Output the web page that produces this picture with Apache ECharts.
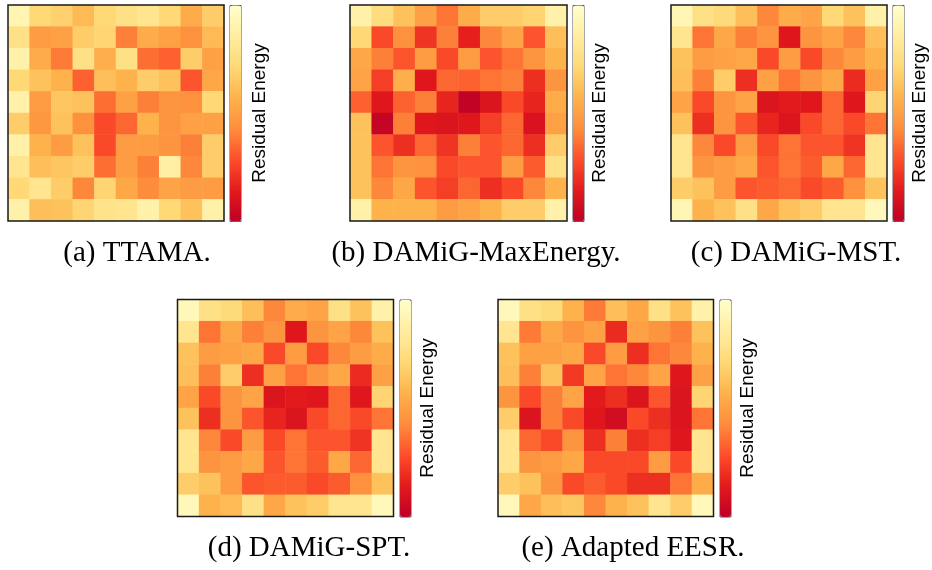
<!DOCTYPE html>
<html>
<head>
<meta charset="utf-8">
<script src="https://cdn.jsdelivr.net/npm/echarts@6/dist/echarts.min.js"></script>
<style>html,body{margin:0;padding:0;background:#fff}#c{width:932px;height:570px}</style>
</head>
<body>
<div id="c"></div>
<script>
// Residual energy per 10x10 grid cell (rows top to bottom), arbitrary units (0 = depleted, 70 = full)
var cols = ['0','1','2','3','4','5','6','7','8','9'];
var rows = ['0','1','2','3','4','5','6','7','8','9'];
var captions = ['(a) TTAMA.', '(b) DAMiG-MaxEnergy.', '(c) DAMiG-MST.', '(d) DAMiG-SPT.', '(e) Adapted EESR.'];
var colorbarLabel = 'Residual Energy';

var ttama = [
  [64,50,48,42,50,54,56,50,38,47],
  [54,34,35,47,49,28,38,35,31,42],
  [62,38,27,54,39,54,25,23,47,35],
  [50,44,40,23,43,40,47,44,21,37],
  [62,34,45,44,25,35,28,32,31,50],
  [47,33,44,31,19,24,40,32,35,35],
  [62,40,34,44,19,34,34,32,28,47],
  [56,43,45,47,25,34,28,61,29,47],
  [50,56,47,29,49,37,30,36,34,34],
  [62,43,44,49,55,56,62,50,44,62]
];
var maxEnergy = [
  [62,52,44,35,26,38,47,47,49,62],
  [50,19,31,15,28,11,29,36,21,43],
  [37,28,21,34,19,34,21,26,32,40],
  [36,17,39,9,24,23,26,28,14,32],
  [23,9,23,28,12,1,8,19,12,38],
  [44,2,28,9,8,9,17,24,7,35],
  [44,21,14,24,15,28,21,24,14,47],
  [44,26,32,31,19,21,21,34,22,54],
  [44,29,37,21,17,24,14,19,29,40],
  [62,40,40,40,34,36,40,47,47,62]
];
var mst = [
  [65,54,51,43,29,38,36,50,44,62],
  [56,26,37,28,32,9,32,36,29,43],
  [44,34,35,37,19,34,19,29,34,40],
  [43,28,47,14,35,26,32,37,13,35],
  [36,19,32,36,8,10,9,24,9,49],
  [44,14,32,21,12,8,19,24,19,26],
  [56,29,19,34,19,26,21,21,15,56],
  [56,32,34,37,21,26,22,37,24,56],
  [47,44,34,21,22,24,19,22,31,44],
  [65,40,44,54,37,44,47,56,56,66]
];
var spt = [
  [66,54,51,43,29,38,36,54,44,62],
  [56,26,37,28,32,9,32,36,29,44],
  [44,34,35,37,19,34,19,29,34,38],
  [43,28,47,14,35,26,32,37,13,35],
  [36,19,32,36,8,10,9,24,9,49],
  [44,14,32,21,12,8,19,24,19,26],
  [56,29,19,34,19,26,21,21,15,56],
  [56,32,34,37,21,26,22,37,24,56],
  [47,44,34,21,22,22,19,22,31,44],
  [66,40,42,54,37,44,47,56,56,66]
];
var eesr = [
  [66,54,51,40,27,43,37,54,44,62],
  [56,27,37,32,35,13,35,32,28,44],
  [44,35,35,37,19,34,14,26,29,40],
  [43,28,44,16,36,26,29,36,9,35],
  [32,19,28,36,10,14,8,21,8,49],
  [47,8,28,19,9,5,19,14,8,26],
  [56,24,19,32,14,28,14,17,9,56],
  [56,32,34,37,19,19,19,34,19,56],
  [47,44,32,19,22,19,14,14,26,38],
  [66,37,43,45,29,40,44,56,47,66]
];

var grids = [ttama, maxEnergy, mst, spt, eesr];
var ylorrd = ['#bd0026','#e31a1c','#fc4e2a','#fd8d3c','#feb24c','#fed976','#ffeda0','#ffffcc'];

// layout (pixels)
var layout = [
  {left: 8,     top: 5,     w: 216, h: 216, cb: 229.5, lab: 260, capX: 137, capY: 253},
  {left: 350,   top: 5,     w: 217, h: 216, cb: 572.5, lab: 600, capX: 476, capY: 253},
  {left: 671,   top: 5,     w: 216, h: 216, cb: 892.5, lab: 920, capX: 796, capY: 253},
  {left: 177.5, top: 299.5, w: 216, h: 217, cb: 399.5, lab: 428, capX: 309, capY: 548},
  {left: 498,   top: 299.5, w: 215.5, h: 217, cb: 719.5, lab: 748, capX: 633, capY: 548}
];

function toCells(m) {
  var out = [];
  for (var r = 0; r < m.length; r++)
    for (var c = 0; c < m[r].length; c++)
      out.push([c, r, m[r][c]]);
  return out;
}

var option = {
  animation: false,
  backgroundColor: '#fff',
  grid: [], xAxis: [], yAxis: [], series: [], visualMap: [], graphic: []
};

layout.forEach(function (L, i) {
  option.grid.push({left: L.left, top: L.top, width: L.w, height: L.h, show: true,
    borderColor: '#1a1a1a', borderWidth: 1.5, backgroundColor: 'transparent', z: 5});
  option.xAxis.push({type: 'category', data: cols, gridIndex: i, show: false});
  option.yAxis.push({type: 'category', data: rows, gridIndex: i, inverse: true, show: false});
  option.series.push({type: 'heatmap', xAxisIndex: i, yAxisIndex: i, data: toCells(grids[i]),
    itemStyle: {borderWidth: 0}, emphasis: {disabled: true}});
  option.visualMap.push({type: 'continuous', seriesIndex: i, min: 0, max: 70, calculable: false,
    orient: 'vertical', left: L.cb, top: L.top, itemWidth: 11, itemHeight: L.h,
    text: ['', ''], showLabel: false, padding: 0, borderColor: '#555', borderWidth: 1,
    inRange: {color: ylorrd}});
  option.graphic.push({type: 'text', x: L.lab, y: L.top + L.h / 2, rotation: Math.PI / 2,
    style: {text: colorbarLabel, fill: '#000', font: '19px "Liberation Sans", Arial, sans-serif',
      textAlign: 'center', textVerticalAlign: 'middle'}});
  option.graphic.push({type: 'text', x: L.capX, y: L.capY,
    style: {text: captions[i], fill: '#000', font: '29px "Liberation Serif", "DejaVu Serif", serif',
      textAlign: 'center', textVerticalAlign: 'middle'}});
});

var chart = echarts.init(document.getElementById('c'), null, {renderer: 'canvas'});
chart.setOption(option);
</script>
</body>
</html>
